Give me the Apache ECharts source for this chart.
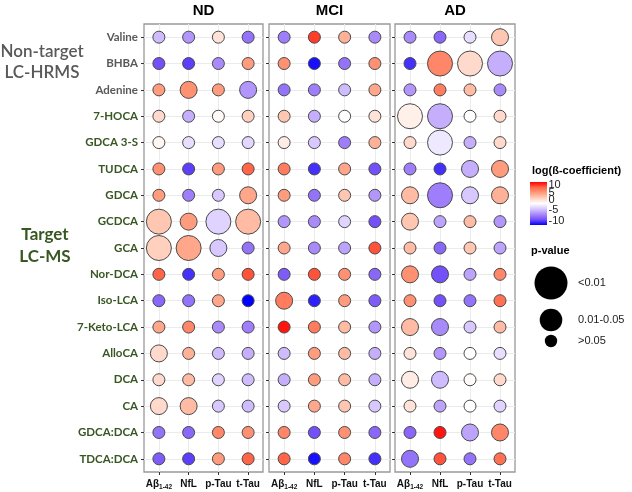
<!DOCTYPE html>
<html><head><meta charset="utf-8">
<script src="https://cdn.jsdelivr.net/npm/echarts@6/dist/echarts.min.js"></script>
<style>html,body{margin:0;padding:0;background:#fff}#c{width:632px;height:492px}</style>
</head><body><div id="c"></div>
<script>
const rows = ['Valine','BHBA','Adenine','7-HOCA','GDCA 3-S','TUDCA','GDCA','GCDCA','GCA','Nor-DCA','Iso-LCA','7-Keto-LCA','AlloCA','DCA','CA','GDCA:DCA','TDCA:DCA'];
const markers = ['Aβ1-42','NfL','p-Tau','t-Tau'];
const panels = ['ND','MCI','AD'];
const nonTargetCount = 3;
const groupNonTarget = ['Non-target','LC-HRMS'];
const groupTarget = ['Target','LC-MS'];
// log(β-coefficient) per row: [Aβ1-42, NfL, p-Tau, t-Tau]
const ndBeta = [[-3,-4.5,1.5,-6],[-7.5,-8,-5,5],[5,5.5,5,-4.5],[2,-3.5,0.3,2.5],[0.5,-1.5,-1.5,-1.8],[5.5,-8,5,7.5],[5,-5.5,-2.5,4.5],[3,5,-2,3.5],[2.5,4.5,-2.5,-6],[7.5,-8.5,5,8],[-6.5,-6,4.5,-10],[4.5,6,-5,-5.5],[2,4,-3,-3.5],[2,3.5,-2,-3],[2,3.5,-2.5,-3],[-6,-6.5,6,5.5],[-7,-8,5,7.5]];
// p-value class: 0 = >0.05, 1 = 0.01-0.05, 2 = <0.01
const ndSig = [[0,0,0,0],[0,0,0,0],[0,1,0,1],[0,0,0,0],[0,0,0,0],[0,0,0,0],[0,0,0,1],[2,1,2,2],[2,2,1,0],[0,0,0,0],[0,0,0,0],[0,0,0,0],[1,0,0,0],[0,0,0,0],[1,1,0,0],[0,0,0,0],[0,0,0,0]];
const mciBeta = [[-5.5,8.5,4,-5],[5.5,-9.5,-6,5.5],[-6,-5.5,-3,4.5],[3,-3.5,0,1.5],[1,-2.5,-5.5,4],[6.5,-8.5,4.5,-7.5],[5,-6,3,-4.5],[-4.5,-5,-2,-7.5],[4.5,-5,-4,8],[-7,8,5.5,-6.5],[6.5,-9,5,-7],[9.5,6.5,3.5,-4.5],[-3,5,3.5,-3.5],[-3.5,5,3.5,-3.5],[-2.5,4.5,3,-2.5],[6,-7.5,5.5,-6.5],[7.5,-9.5,6,-8.5]];
const mciSig = [[0,0,0,0],[0,0,0,0],[0,0,0,0],[0,0,0,0],[0,0,0,0],[0,0,0,0],[0,0,0,0],[0,0,0,0],[0,0,0,0],[0,0,0,0],[1,0,0,0],[0,0,0,0],[0,0,0,0],[0,0,0,0],[0,0,0,0],[0,0,0,0],[0,0,0,0]];
const adBeta = [[-5,-6.5,-1.5,3],[-8.5,6,2,-3.5],[-4.5,6.5,3.5,-5],[0.8,-3.5,0,2],[2,-1,-3.5,2],[-5.5,-8.5,-3.5,5],[3.5,-5.5,-2.5,4],[3,-4,3.5,-4.5],[3.5,-6.5,3,-4],[5.5,-7.5,-4,6],[5.5,-7.5,-6,7],[3.5,-5,-2.5,3.5],[1.5,-4.5,0,-1.5],[1,-3,0.2,2],[1.5,-4,0,-2],[-6.5,9.5,-4,6],[-6,8,-6,7]];
const adSig = [[0,0,0,1],[0,2,2,2],[0,0,0,0],[2,2,0,0],[0,2,0,0],[0,0,1,1],[1,2,1,1],[1,0,0,0],[0,0,0,0],[1,1,0,0],[0,0,0,0],[1,1,0,0],[0,0,0,0],[1,1,0,0],[0,0,0,0],[0,0,1,1],[1,0,0,0]];
const colorTicks = [10,5,0,-5,-10];
const pLevels = ['<0.01','0.01-0.05','>0.05'];

const betas = [ndBeta, mciBeta, adBeta];
const sigs = [ndSig, mciSig, adSig];
const scaleColors = ['#0000FF','#7350F8','#A98AFA','#D8C8FF','#FFFFFF','#FFD0BE','#FF9C7E','#FF6648','#FF0000'];
const sizeBySig = [12, 17, 25];
const grey = '#595959', green = '#385723';
const grids = [{left:144,width:119},{left:269,width:121},{left:395,width:120}];
const gTop = 24, gH = 448;

const chart = echarts.init(document.getElementById('c'));
const xAxes = [], yAxes = [], series = [], gridOpt = [];
grids.forEach((g, p) => {
  gridOpt.push({left:g.left, width:g.width, top:gTop, height:gH, show:true, borderColor:'#999', borderWidth:1.3, backgroundColor:'#fff'});
  xAxes.push({type:'category', gridIndex:p, data:markers, boundaryGap:true,
    axisLine:{show:false}, axisTick:{show:true, alignWithLabel:true, length:3, lineStyle:{color:'#333'}},
    splitLine:{show:true, alignWithLabel:true, lineStyle:{color:'#ebebeb', width:1}},
    axisLabel:{margin:5, interval:0, formatter:(v)=> v==='Aβ1-42' ? '{a|Aβ}{s|1-42}' : '{a|'+v+'}',
      rich:{a:{fontFamily:'Liberation Sans', fontWeight:'bold', fontSize:10, color:'#111', lineHeight:14},
            s:{fontFamily:'Liberation Sans', fontWeight:'bold', fontSize:6.5, color:'#111', lineHeight:14, verticalAlign:'bottom'}}}});
  yAxes.push({type:'category', gridIndex:p, inverse:true, boundaryGap:true,
    data: rows.map((r,i)=>({value:r, textStyle:{color: i<nonTargetCount ? grey : green}})),
    axisLine:{show:false}, axisTick:{show:true, alignWithLabel:true, length:3, lineStyle:{color:'#333'}},
    splitLine:{show:true, alignWithLabel:true, lineStyle:{color:'#ebebeb', width:1}},
    axisLabel:{show:p===0, interval:0, margin:6, fontFamily:'Lato', fontWeight:'bold', fontSize:11.5}});
  const data = [];
  rows.forEach((r,i)=>markers.forEach((m,j)=>data.push([j, i, betas[p][i][j], sigs[p][i][j]])));
  series.push({type:'scatter', xAxisIndex:p, yAxisIndex:p, data,
    symbolSize:(d)=>sizeBySig[d[3]],
    itemStyle:{borderColor:'#4a4a4a', borderWidth:1, opacity:1}});
});

const graphic = [];
panels.forEach((t,p)=>{
  graphic.push({type:'text', x:grids[p].left+grids[p].width/2, y:11, style:{text:t, fill:'#000', font:'bold 15px "Liberation Sans"', textAlign:'center', textVerticalAlign:'middle'}});
});
groupNonTarget.forEach((t,k)=>graphic.push({type:'text', x:42, y:52+k*21, style:{text:t, fill:grey, font:'600 17px Lato', textAlign:'center', textVerticalAlign:'middle'}}));
groupTarget.forEach((t,k)=>graphic.push({type:'text', x:45, y:235+k*22, style:{text:t, fill:green, font:'bold 17px Lato', textAlign:'center', textVerticalAlign:'middle'}}));
// colour legend
graphic.push({type:'text', x:532, y:171, style:{text:'log(ß-coefficient)', fill:'#000', font:'bold 11px "Liberation Sans"', textVerticalAlign:'middle'}});
graphic.push({type:'rect', shape:{x:530, y:182, width:17, height:43}, style:{fill:new echarts.graphic.LinearGradient(0,0,0,1, scaleColors.slice().reverse().map((c,i,a)=>({offset:i/(a.length-1), color:c})))}});
const tickY = [185, 192.5, 200, 210, 221];
colorTicks.forEach((v,k)=>graphic.push({type:'text', x:548.5, y:tickY[k], style:{text:String(v), fill:'#222', font:'11px "Liberation Sans"', textVerticalAlign:'middle'}}));
// p-value legend
graphic.push({type:'text', x:531, y:251, style:{text:'p-value', fill:'#000', font:'bold 11px "Liberation Sans"', textVerticalAlign:'middle'}});
const legR = [16.5, 11.3, 6.2], legY = [283, 320, 341];
pLevels.forEach((t,k)=>{
  graphic.push({type:'circle', shape:{cx:551, cy:legY[k], r:legR[k]}, style:{fill:'#000'}});
  graphic.push({type:'text', x:578, y:legY[k], style:{text:t, fill:'#222', font:'11px "Liberation Sans"', textVerticalAlign:'middle'}});
});

chart.setOption({
  backgroundColor:'#fff', animation:false,
  grid:gridOpt, xAxis:xAxes, yAxis:yAxes, series,
  visualMap:{show:false, type:'continuous', min:-10, max:10, dimension:2, seriesIndex:[0,1,2], inRange:{color:scaleColors}},
  graphic
});
</script></body></html>
